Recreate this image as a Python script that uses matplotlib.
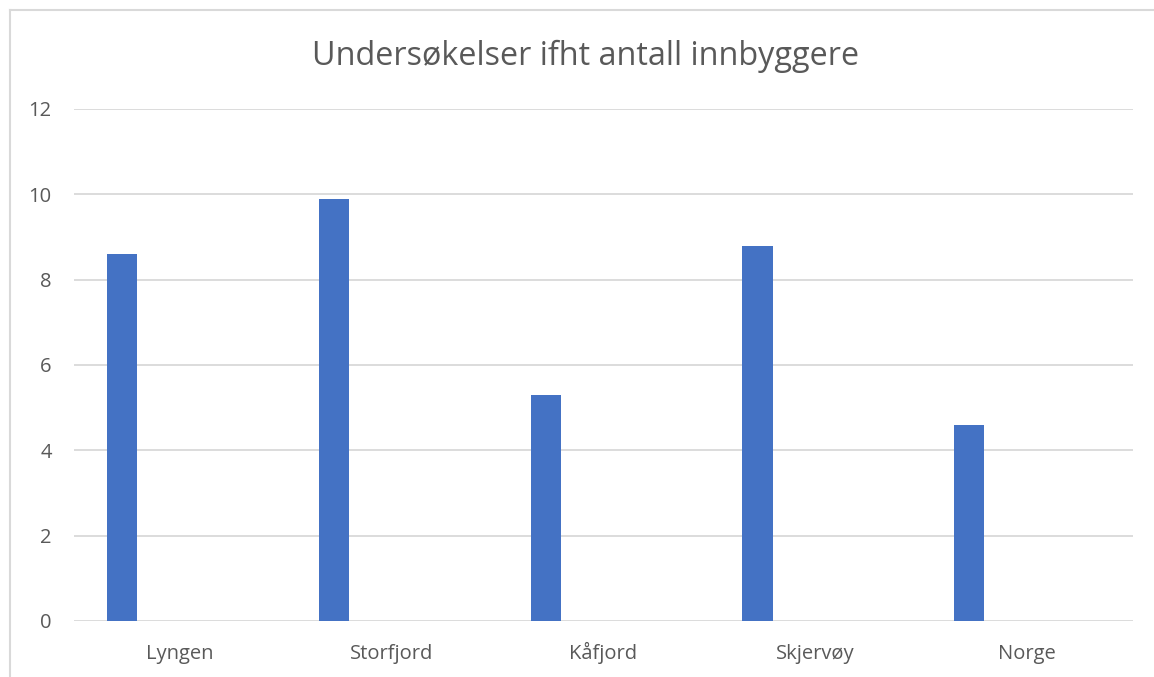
import matplotlib
matplotlib.use("Agg")
import matplotlib.pyplot as plt
from matplotlib.lines import Line2D

# Data
kommuner = ["Lyngen", "Storfjord", "Kåfjord", "Skjervøy", "Norge"]
undersokelser = [8.6, 9.9, 5.3, 8.8, 4.6]
y_ticks = [0, 2, 4, 6, 8, 10, 12]
title = "Undersøkelser ifht antall innbyggere"

text_color = "#595959"
grid_color = "#d9d9d9"
bar_color = "#4472c4"
font = ["Open Sans", "DejaVu Sans"]

W, H = 1154, 677
fig = plt.figure(figsize=(W / 100, H / 100), dpi=100)
ax = fig.add_axes([74 / W, (H - 621) / H, (1133 - 74) / W, (621 - 109) / H])

x = list(range(len(kommuner)))
offset = -0.273
width = 0.142
ax.bar([i + offset for i in x], undersokelser, width=width, color=bar_color, zorder=3)

ax.set_xlim(-0.5, len(kommuner) - 0.5)
ax.set_ylim(0, 12)
ax.set_yticks(y_ticks)
ax.set_yticklabels([str(t) for t in y_ticks], fontsize=14.5, color=text_color, family=font)
ax.set_xticks(x)
ax.set_xticklabels(kommuner, fontsize=14.5, color=text_color, family=font)
for lbl in ax.get_xticklabels():
    lbl.set_verticalalignment("baseline")
ax.tick_params(axis="both", length=0)
ax.tick_params(axis="y", pad=16)
ax.tick_params(axis="x", pad=27.5)
ax.yaxis.grid(True, color=grid_color, linewidth=1.3)
ax.set_axisbelow(True)
for s in ax.spines.values():
    s.set_visible(False)

fig.text(586 / W, 1 - 56 / H, title, ha="center", va="center",
         fontsize=23.3, color=text_color, family=font)

# Chart frame (top and left edges)
fig.add_artist(Line2D([10 / W, 1.0], [1 - 10 / H, 1 - 10 / H], color=grid_color, lw=1.5))
fig.add_artist(Line2D([10 / W, 10 / W], [0, 1 - 10 / H], color=grid_color, lw=1.5))

fig.savefig("out.png", dpi=100)
